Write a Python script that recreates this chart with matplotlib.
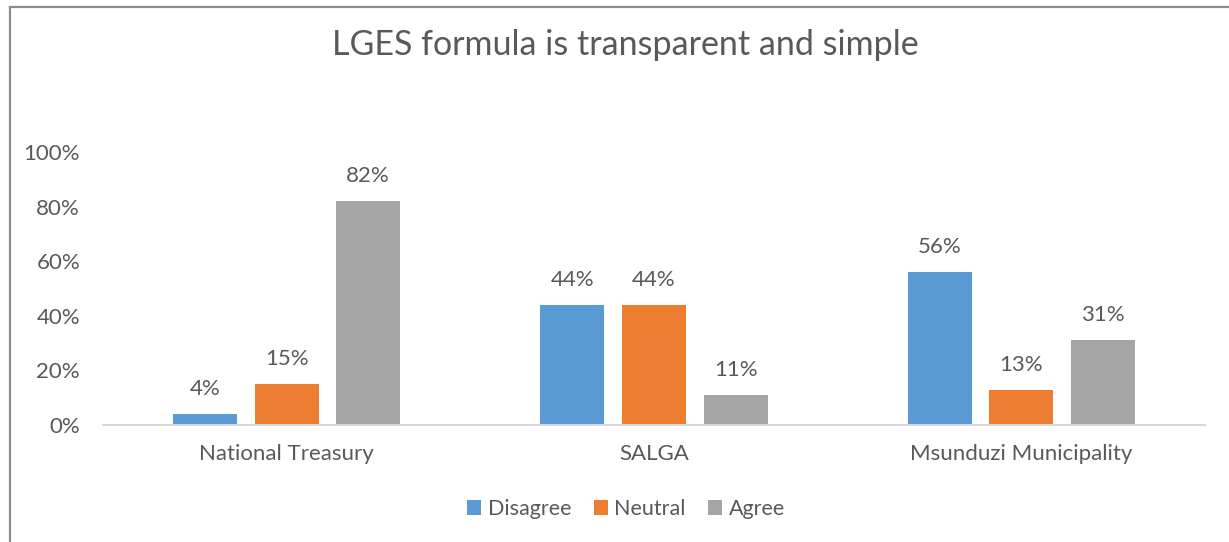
import matplotlib
matplotlib.use("Agg")
import matplotlib.pyplot as plt
from matplotlib.patches import Patch
from matplotlib.lines import Line2D
import numpy as np

plt.rcParams['font.family'] = ['Lato', 'DejaVu Sans']

categories = ['National Treasury', 'SALGA', 'Msunduzi Municipality']
series = ['Disagree', 'Neutral', 'Agree']
disagree = [0.04, 0.44, 0.56]
neutral = [0.15, 0.44, 0.13]
agree = [0.82, 0.11, 0.31]
colors = ['#5B9BD5', '#ED7D31', '#A5A5A5']
text_col = '#595959'

W, H = 1229, 542
fig = plt.figure(figsize=(W / 100, H / 100), dpi=100)
ax = fig.add_axes([103 / W, (H - 425) / H, (1205 - 103) / W, (425 - 152) / H])

x = np.arange(len(categories))
width = 0.174
step = 0.222
for i, (vals, col) in enumerate(zip([disagree, neutral, agree], colors)):
    pos = x + (i - 1) * step
    bars = ax.bar(pos, vals, width, color=col, label=series[i], zorder=2)
    for b, v in zip(bars, vals):
        ax.annotate(f'{v:.0%}', (b.get_x() + b.get_width() / 2, v),
                    xytext=(0, 18), textcoords='offset points',
                    ha='center', va='center', fontsize=16, color=text_col)

ax.set_xlim(-0.5, 2.5)
ax.set_ylim(0, 1)
ticks = np.arange(0, 1.01, 0.2)
ax.set_yticks(ticks)
ax.set_yticklabels([f'{int(round(t * 100))}%' for t in ticks])
ax.set_xticks(x)
ax.set_xticklabels(categories)
ax.tick_params(axis='y', length=0, pad=16.5, labelsize=16, labelcolor=text_col)
ax.tick_params(axis='x', length=0, pad=14, labelsize=16, labelcolor=text_col)
for s in ['top', 'right', 'left']:
    ax.spines[s].set_visible(False)
ax.spines['bottom'].set_color('#D9D9D9')
ax.spines['bottom'].set_linewidth(1.5)
ax.spines['bottom'].set_zorder(3)

fig.text(625 / W, (H - 45) / H, 'LGES formula is transparent and simple',
         ha='center', va='center', fontsize=24.5, color=text_col)

handles = [Patch(facecolor=c, edgecolor='none') for c in colors]
fig.legend(handles, series, loc='center', bbox_to_anchor=(626 / W, (H - 509) / H),
           ncol=3, frameon=False, fontsize=15.5, labelcolor=text_col,
           handlelength=0.65, handleheight=0.65, handletextpad=0.3, columnspacing=1.05)

# chart frame (cropped at right and bottom)
fig.add_artist(Line2D([10 / W, 10 / W], [0, (H - 7) / H], color='#8C8C8C', lw=1.6))
fig.add_artist(Line2D([10 / W, 1], [(H - 7) / H, (H - 7) / H], color='#8C8C8C', lw=1.6))

fig.savefig('out.png', dpi=100)
